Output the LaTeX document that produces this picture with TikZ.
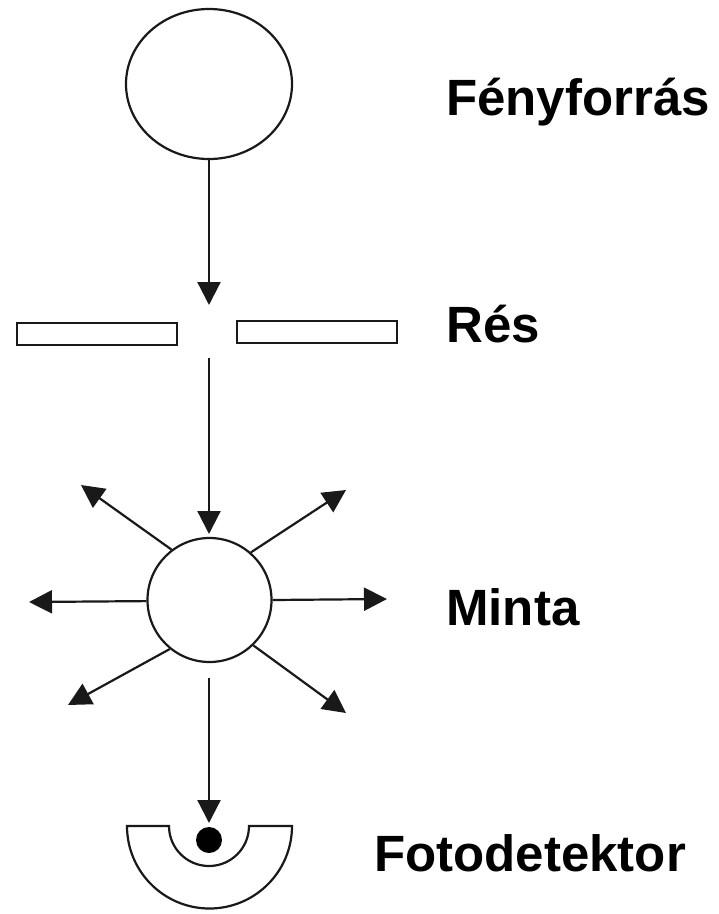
\documentclass[tikz,border=0pt]{standalone}
\usepackage{fontspec}
\setmainfont{Liberation Sans}
\usetikzlibrary{arrows.meta,shapes.geometric}
\tikzset{
  ln/.style={line width=2.2pt,draw=black!90},
  arr/.style={ln,-{Triangle[length=23pt,width=23pt]}},
  lbl/.style={anchor=base west,inner sep=0pt,font=\fontsize{51}{56}\selectfont\bfseries},
  slitbox/.style={ln,rectangle,minimum width=160pt,minimum height=22pt,inner sep=0pt},
}
\begin{document}
\begin{tikzpicture}
\useasboundingbox (0pt,0pt) rectangle (719pt,-914pt);
% light source
\node[ln,ellipse,minimum width=166pt,minimum height=150pt,inner sep=0pt] (src) at (209pt,-84pt) {};
\coordinate (t1) at (209pt,-305pt);
\draw[arr] (src.south) -- (t1);
% slit
\node[slitbox] (slitL) at (97pt,-334pt) {};
\node[slitbox] (slitR) at (317pt,-332pt) {};
% sample
\coordinate (s2) at (209pt,-358pt);
\node[ln,circle,minimum size=124pt,inner sep=0pt] (smp) at (209.5pt,-600pt) {};
\draw[arr] (s2) -- (209pt,-534pt) coordinate (t2);
\coordinate (tUL) at (81pt,-485pt);
\coordinate (tUR) at (346pt,-490pt);
\coordinate (tL) at (29pt,-602pt);
\coordinate (tR) at (387pt,-599pt);
\coordinate (tLL) at (68pt,-705pt);
\coordinate (tLR) at (346pt,-713pt);
\draw[arr] (smp.127) -- (tUL);
\draw[arr] (smp.49) -- (tUR);
\draw[arr] (smp.181) -- (tL);
\draw[arr] (smp.0) -- (tR);
\draw[arr] (smp.231) -- (tLL);
\draw[arr] (smp.314) -- (tLR);
% detector
\coordinate (s3) at (209pt,-678pt);
\coordinate (t3) at (209pt,-823pt);
\draw[arr] (s3) -- (t3);
\draw[ln] (127pt,-826pt) -- (169pt,-826pt)
  arc[start angle=180,end angle=360,radius=40pt] -- (292pt,-826pt)
  arc[start angle=0,end angle=-180,radius=82.5pt] -- cycle;
\node[circle,fill=black,minimum size=26pt,inner sep=0pt] (dot) at (209pt,-840pt) {};
% labels
\node[lbl] (l1) at (446pt,-115pt) {Fényforrás};
\node[lbl] (l2) at (446pt,-342pt) {Rés};
\node[lbl] (l3) at (446pt,-625pt) {Minta};
\node[lbl] (l4) at (374pt,-871pt) {Fotodetektor};
\end{tikzpicture}
\end{document}
